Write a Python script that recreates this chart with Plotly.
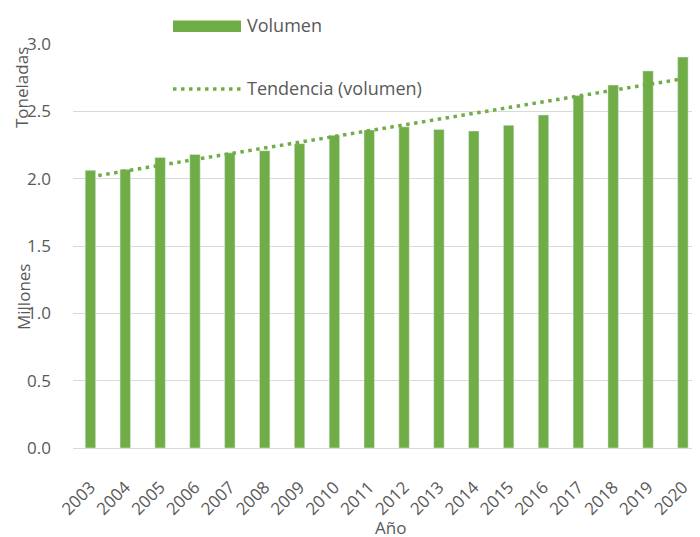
import numpy as np
import plotly.graph_objects as go

years = ["2003", "2004", "2005", "2006", "2007", "2008", "2009", "2010", "2011",
         "2012", "2013", "2014", "2015", "2016", "2017", "2018", "2019", "2020"]
volumen = [2.062, 2.069, 2.158, 2.180, 2.192, 2.208, 2.260, 2.322, 2.362,
           2.385, 2.366, 2.354, 2.396, 2.473, 2.617, 2.695, 2.800, 2.903]
y_ticks = [0.0, 0.5, 1.0, 1.5, 2.0, 2.5, 3.0]

GREEN = "#70AD47"
TXT = "#595959"
FONT = "'Open Sans', Lato, sans-serif"

idx = np.arange(len(years))
slope, intercept = np.polyfit(idx, volumen, 1)
trend = slope * idx + intercept

fig = go.Figure()
fig.add_trace(go.Bar(x=years, y=volumen, name="Volumen", marker=dict(color=GREEN),
                     width=0.3, showlegend=False))
fig.add_trace(go.Scatter(x=years, y=trend, mode="lines", name="Tendencia (volumen)",
                         line=dict(color=GREEN, width=3.5, dash="3.5px,4.5px"),
                         showlegend=False))

# The page body has an 8px margin, so the figure is drawn 8px smaller
OFF = 8
W, H = 700 - OFF, 537 - OFF
L, T = 73 - OFF, 44 - OFF
B = H - (448 - OFF)
pw, ph = W - L, H - T - B

def px(x):  # x in reference screen pixels -> paper
    return (x - OFF - L) / pw

def py(y):
    return (H - B - (y - OFF)) / ph

fig.update_layout(
    width=W, height=H,
    margin=dict(l=L, r=0, t=T, b=B, autoexpand=False),
    paper_bgcolor="white", plot_bgcolor="white",
    font=dict(family=FONT, color=TXT, size=17),
    xaxis=dict(type="category", range=[-0.5, -0.5 + (707 - 73) / 35.24], tickangle=-45,
               showgrid=False, showline=False, ticks="", tickfont=dict(size=17),
               automargin=False, ticklabelstandoff=25),
    yaxis=dict(range=[0, 3.0], tickvals=y_ticks, ticktext=[f"{v:.1f}" for v in y_ticks],
               showgrid=True, gridcolor="#D9D9D9", gridwidth=1.3, zeroline=True,
               zerolinecolor="#D9D9D9", zerolinewidth=1.3, showline=False, ticks="",
               ticklabelstandoff=21, tickfont=dict(size=17), automargin=False),
    bargap=0.7,
)

# Custom legend (swatches + labels)
fig.add_shape(type="rect", xref="paper", yref="paper", x0=px(173), x1=px(241),
              y0=py(32), y1=py(20.5), fillcolor=GREEN, line=dict(width=0))
fig.add_shape(type="line", xref="paper", yref="paper", x0=px(173), x1=px(241),
              y0=py(89), y1=py(89), line=dict(color=GREEN, width=3.5, dash="3.5px,4.5px"))
fig.add_annotation(xref="paper", yref="paper", x=px(245), y=py(25), text="Volumen",
                   showarrow=False, xanchor="left", yanchor="middle", font=dict(size=18))
fig.add_annotation(xref="paper", yref="paper", x=px(245), y=py(88), text="Tendencia (volumen)",
                   showarrow=False, xanchor="left", yanchor="middle", font=dict(size=18))

# Axis titles and display-units label
fig.add_annotation(xref="paper", yref="paper", x=px(390), y=py(527), text="Año",
                   showarrow=False, xanchor="center", yanchor="middle", font=dict(size=17))
fig.add_annotation(xref="paper", yref="paper", x=px(21), y=py(88), text="Toneladas",
                   textangle=-90, showarrow=False, xanchor="center", yanchor="middle",
                   font=dict(size=17))
fig.add_annotation(xref="paper", yref="paper", x=px(23), y=py(297), text="Millones",
                   textangle=-90, showarrow=False, xanchor="center", yanchor="middle",
                   font=dict(size=17))

fig.write_html("out.html")
